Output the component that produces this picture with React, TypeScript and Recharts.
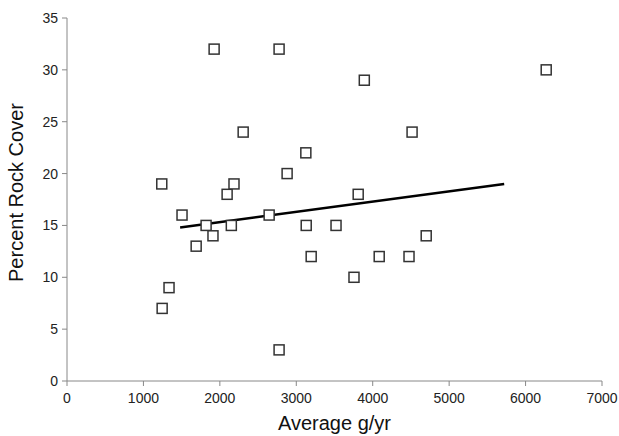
import {
	ScatterChart,
	Scatter,
	XAxis,
	YAxis,
} from "recharts";

const avgGrams = [
	1240, 1245, 1335, 1505, 1690, 1820, 1910, 1925, 2095, 2150, 2185, 2305,
	2645, 2775, 2775, 2880, 3125, 3130, 3195, 3520, 3755, 3810, 3890, 4085,
	4475, 4515, 4700, 6270,
];
const rockCover = [
	19, 7, 9, 16, 13, 15, 14, 32, 18, 15, 19, 24, 16, 32, 3, 20, 22, 15, 12,
	15, 10, 18, 29, 12, 12, 24, 14, 30,
];

const trendX = [1480, 5720];
const trendY = [14.8, 19.0];

const xTicks = [0, 1000, 2000, 3000, 4000, 5000, 6000, 7000];
const yTicks = [0, 5, 10, 15, 20, 25, 30, 35];

const points = avgGrams.map((x, i) => ({ x, y: rockCover[i] }));
const trend = trendX.map((x, i) => ({ x, y: trendY[i] }));

const font = "'Liberation Sans', Arial, sans-serif";

function Square(props: any) {
	const { cx, cy } = props;
	return (
		<rect
			x={cx - 5}
			y={cy - 5}
			width={10}
			height={10}
			fill="#fff"
			stroke="#333"
			strokeWidth={1.5}
		/>
	);
}

export default function App() {
	return (
		<div style={{ position: "absolute", left: 0, top: 0 }}>
			<ScatterChart
				width={619}
				height={436}
				margin={{ top: 18, right: 17, bottom: 25, left: 0 }}
				style={{ fontFamily: font }}
			>
				<XAxis
					type="number"
					dataKey="x"
					domain={[0, 7000]}
					ticks={xTicks}
					height={30}
					stroke="#888"
					tickSize={5}
					tickMargin={7}
					tick={{ fill: "#222", fontSize: 14 }}
					label={{
						value: "Average g/yr",
						position: "bottom",
						offset: 5,
						style: { fontSize: 20, fill: "#111" },
					}}
				/>
				<YAxis
					type="number"
					dataKey="y"
					domain={[0, 35]}
					ticks={yTicks}
					width={67}
					stroke="#888"
					tickSize={5}
					tickMargin={4}
					tick={{ fill: "#222", fontSize: 14 }}
					label={{
						value: "Percent Rock Cover",
						angle: -90,
						position: "insideLeft",
						offset: 16,
						dy: -7,
						style: { fontSize: 20, fill: "#111", textAnchor: "middle" },
					}}
				/>
				<Scatter
					data={trend}
					line={{ stroke: "#000", strokeWidth: 2.5 }}
					shape={() => null}
					isAnimationActive={false}
				/>
				<Scatter data={points} shape={Square} isAnimationActive={false} />
			</ScatterChart>
		</div>
	);
}
